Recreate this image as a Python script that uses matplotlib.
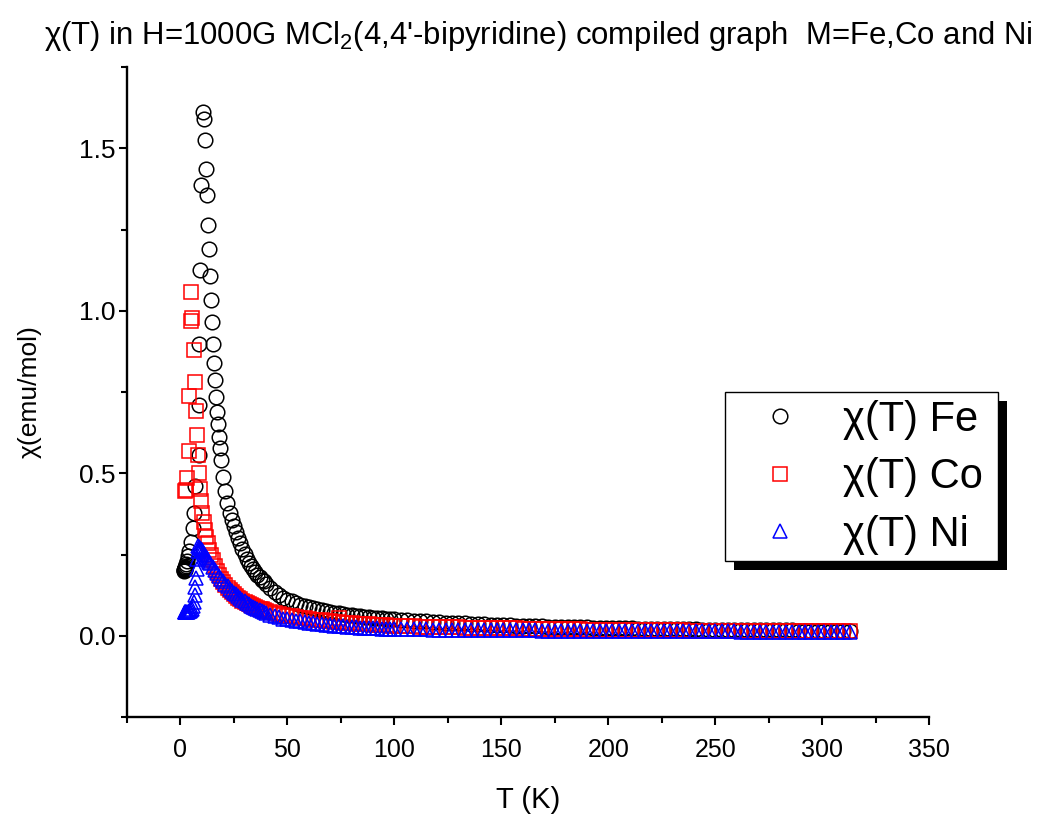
import matplotlib
matplotlib.use("Agg")
import matplotlib.pyplot as plt
from matplotlib.patches import Rectangle
from matplotlib.ticker import MultipleLocator

plt.rcParams['font.family'] = ['Liberation Sans', 'DejaVu Sans']
plt.rcParams['mathtext.fontset'] = 'custom'
plt.rcParams['mathtext.rm'] = 'Liberation Sans'
plt.rcParams['mathtext.it'] = 'Liberation Sans'

# ---------------- data ----------------
# shared temperature grid for the high-temperature tails
T_tail = ([24, 25, 26, 27, 28, 29, 30, 31, 32, 33, 34, 35, 36, 37, 38, 39, 40,
           42, 44, 46, 48, 50, 52, 54, 56, 58, 60, 62, 64, 66, 68, 70, 72, 74, 76, 78,
           80, 82, 84, 86, 88, 90, 92, 94, 96, 98, 100]
          + [103, 106, 109, 112, 115, 118, 121, 124, 127, 130, 133, 136, 139, 142, 145,
             148, 151, 154, 157, 160, 163, 166, 169, 172, 175, 178, 181, 184, 187, 190,
             193, 196, 199, 202, 205, 208, 211, 214, 217, 220, 223, 226, 229, 232, 235,
             238, 241, 244, 247, 250, 253, 256, 259, 262, 265, 268, 271, 274, 277, 280,
             283, 286, 289, 292, 295, 298, 301, 304, 307, 310, 313])

# Fe: low temperature part
T_fe_low = [1.6, 1.7, 1.8, 1.9, 2.0, 2.1, 2.2, 2.3, 2.5, 2.7, 3.0, 3.5, 4.2, 5.0, 5.9,
            6.2, 7.0, 8.6, 8.6, 8.6, 9.3, 9.7, 10.4,
            10.9, 11.4, 12.1, 12.3, 12.8, 13.2, 13.7, 14.3, 14.8, 15.2, 15.9, 16.1,
            16.7, 17.1, 17.6, 18.2, 18.7, 19.0, 19.8, 21.0, 21.8, 23.0]
chi_fe_low = [0.200, 0.201, 0.202, 0.203, 0.205, 0.207, 0.209, 0.212, 0.216, 0.222,
              0.231, 0.245, 0.262, 0.290, 0.331, 0.378, 0.460, 0.557, 0.711, 0.898,
              1.124, 1.388, 1.612,
              1.590, 1.526, 1.437, 1.355, 1.265, 1.190, 1.106, 1.034, 0.965, 0.898,
              0.839, 0.788, 0.736, 0.690, 0.651, 0.613, 0.578, 0.542, 0.490, 0.444,
              0.408, 0.377]
chi_fe_tail = [0.357, 0.338, 0.320, 0.302, 0.285, 0.268, 0.252, 0.237, 0.225, 0.214,
               0.205, 0.196, 0.188, 0.180, 0.173, 0.167, 0.160,
               0.147, 0.136, 0.126, 0.117, 0.111, 0.106, 0.101, 0.096, 0.092, 0.088,
               0.084, 0.081, 0.078, 0.075, 0.073, 0.071, 0.069, 0.067, 0.065, 0.063,
               0.062, 0.060, 0.059, 0.058, 0.056, 0.055, 0.054, 0.053, 0.052, 0.051,
               0.0495, 0.0480, 0.0466, 0.0453, 0.0441, 0.0429, 0.0418, 0.0407, 0.0397,
               0.0387, 0.0378, 0.0369, 0.0360, 0.0352, 0.0344, 0.0336, 0.0329, 0.0322,
               0.0315, 0.0308, 0.0302, 0.0296, 0.0290, 0.0284, 0.0279, 0.0274, 0.0269,
               0.0264, 0.0259, 0.0254, 0.0250, 0.0245, 0.0241, 0.0237, 0.0233, 0.0229,
               0.0226, 0.0222, 0.0219, 0.0216, 0.0212, 0.0209, 0.0206, 0.0203, 0.0200,
               0.0198, 0.0195, 0.0192, 0.0190, 0.0187, 0.0185, 0.0182, 0.0180, 0.0178,
               0.0176, 0.0173, 0.0171, 0.0169, 0.0167, 0.0165, 0.0164, 0.0162, 0.0160,
               0.0158, 0.0157, 0.0155, 0.0153, 0.0152, 0.0150, 0.0149, 0.0147]

# Co: low temperature part (scattered) + outlier
T_co_low = [2.3, 2.7, 3.1, 3.9, 4.2, 4.7, 5.0, 5.5, 6.2, 6.7, 7.3, 7.8, 8.4, 8.7,
            9.3, 9.6, 10.3, 10.9, 11.4, 12.1, 12.8, 13.5, 14.3, 15.0, 16.0, 17.0,
            18.0, 19.0, 20.0, 21.0, 22.0, 23.0, 74.0]
chi_co_low = [0.446, 0.449, 0.485, 0.570, 0.738, 0.967, 1.057, 0.977, 0.878, 0.781,
              0.693, 0.618, 0.555, 0.501, 0.451, 0.416, 0.379, 0.351, 0.326, 0.305,
              0.285, 0.265, 0.247, 0.232, 0.215, 0.200, 0.187, 0.175, 0.165, 0.156,
              0.148, 0.141, 0.055]
chi_co_tail = [0.134, 0.128, 0.122, 0.117, 0.112, 0.108, 0.104, 0.100, 0.097, 0.094,
               0.091, 0.088, 0.086, 0.083, 0.081, 0.079, 0.077,
               0.074, 0.071, 0.068, 0.065, 0.062, 0.060, 0.058, 0.056, 0.054, 0.052,
               0.050, 0.048, 0.047, 0.045, 0.044, 0.043, 0.042, 0.040, 0.039, 0.038,
               0.037, 0.036, 0.035, 0.035, 0.034, 0.033, 0.032, 0.032, 0.031, 0.030,
               0.0295, 0.0290, 0.0285, 0.0280, 0.0275, 0.0270, 0.0266, 0.0262, 0.0258,
               0.0254, 0.0250, 0.0246, 0.0243, 0.0240, 0.0237, 0.0234, 0.0231, 0.0228,
               0.0225, 0.0222, 0.0219, 0.0216, 0.0213, 0.0210, 0.0207, 0.0204, 0.0201,
               0.0198, 0.0195, 0.0192, 0.0190, 0.0188, 0.0186, 0.0184, 0.0182, 0.0180,
               0.0178, 0.0176, 0.0174, 0.0172, 0.0170, 0.0168, 0.0166, 0.0164, 0.0162,
               0.0160, 0.0158, 0.0157, 0.0156, 0.0155, 0.0154, 0.0153, 0.0152, 0.0151,
               0.0150, 0.0149, 0.0148, 0.0147, 0.0146, 0.0145, 0.0144, 0.0143, 0.0142,
               0.0141, 0.0140, 0.0139, 0.0138, 0.0137, 0.0136, 0.0135, 0.0134]

# Ni: low temperature part
T_ni_low = [1.9, 2.1, 2.3, 2.5, 2.8, 3.1, 3.5, 4.0, 4.5, 5.0, 5.5, 6.0, 6.3, 6.6,
            6.9, 7.2, 7.5, 7.8, 8.1, 8.4, 8.8, 9.2, 9.6, 10.0, 10.5, 11.0, 11.5,
            12.0, 12.5, 13.0, 13.5, 14.0, 15.0, 16.0, 17.0, 18.0, 19.0, 20.0, 21.0,
            22.0, 23.0]
chi_ni_low = [0.072, 0.072, 0.073, 0.073, 0.073, 0.074, 0.074, 0.075, 0.076, 0.078,
              0.082, 0.091, 0.105, 0.125, 0.150, 0.177, 0.205, 0.235, 0.262, 0.275,
              0.273, 0.270, 0.267, 0.263, 0.258, 0.253, 0.248, 0.243, 0.238, 0.233,
              0.228, 0.223, 0.213, 0.203, 0.194, 0.185, 0.176, 0.168, 0.160, 0.152,
              0.145]
chi_ni_tail = [0.139, 0.133, 0.127, 0.121, 0.116, 0.111, 0.106, 0.101, 0.097, 0.093,
               0.089, 0.085, 0.082, 0.079, 0.076, 0.073, 0.070,
               0.065, 0.061, 0.057, 0.053, 0.051, 0.048, 0.046, 0.044, 0.042, 0.040,
               0.038, 0.036, 0.035, 0.033, 0.032, 0.031, 0.030, 0.029, 0.028, 0.027,
               0.026, 0.025, 0.025, 0.024, 0.023, 0.023, 0.022, 0.022, 0.021, 0.021,
               0.0205, 0.0202, 0.0199, 0.0196, 0.0193, 0.0191, 0.0189, 0.0187, 0.0185,
               0.0183, 0.0181, 0.0179, 0.0177, 0.0175, 0.0173, 0.0172, 0.0170, 0.0169,
               0.0167, 0.0166, 0.0164, 0.0163, 0.0161, 0.0160, 0.0159, 0.0157, 0.0156,
               0.0155, 0.0154, 0.0153, 0.0151, 0.0150, 0.0149, 0.0148, 0.0147, 0.0146,
               0.0145, 0.0144, 0.0143, 0.0142, 0.0141, 0.0140, 0.0139, 0.0138, 0.0137,
               0.0137, 0.0136, 0.0135, 0.0134, 0.0133, 0.0133, 0.0132, 0.0131, 0.0130,
               0.0130, 0.0129, 0.0128, 0.0128, 0.0127, 0.0126, 0.0126, 0.0125, 0.0125,
               0.0124, 0.0123, 0.0123, 0.0122, 0.0122, 0.0121, 0.0121, 0.0120]

labels = ["\u03c7(T) Fe", "\u03c7(T) Co", "\u03c7(T) Ni"]
title = "\u03c7(T) in H=1000G MCl$_2$(4,4'-bipyridine) compiled graph  M=Fe,Co and Ni"
xticks = [0, 50, 100, 150, 200, 250, 300, 350]
yticks = [0.0, 0.5, 1.0, 1.5]

# ---------------- figure ----------------
W, H = 1038, 817
fig = plt.figure(figsize=(W / 100, H / 100), dpi=100)
fig.patch.set_facecolor('white')
ax = fig.add_axes([127 / W, 1 - 717 / H, (929 - 127) / W, (717 - 67) / H])
ax.patch.set_alpha(0)

ax.plot(T_fe_low + T_tail, chi_fe_low + chi_fe_tail, linestyle='none', marker='o',
        ms=10.5, mfc='none', mec='black', mew=1.1, label=labels[0], zorder=2)
ax.plot(T_co_low + T_tail, chi_co_low + chi_co_tail, linestyle='none', marker='s',
        ms=9.5, mfc='none', mec='red', mew=1.1, label=labels[1], zorder=2.1)
ax.plot(T_ni_low + T_tail, chi_ni_low + chi_ni_tail, linestyle='none', marker='^',
        ms=10.5, mfc='none', mec='blue', mew=1.1, label=labels[2], zorder=2.2)

ax.set_xlim(-25, 350)
ax.set_ylim(-0.25, 1.75)
ax.set_xticks(xticks)
ax.set_yticks(yticks)
ax.set_yticklabels([f"{v:.1f}" for v in yticks])
ax.xaxis.set_minor_locator(MultipleLocator(25))
ax.yaxis.set_minor_locator(MultipleLocator(0.25))
for s in ['top', 'right']:
    ax.spines[s].set_visible(False)
for s in ['left', 'bottom']:
    ax.spines[s].set_linewidth(1.7)
ax.tick_params(which='major', direction='out', length=6, width=1.5)
ax.tick_params(which='minor', direction='out', length=4, width=1.5)
ax.tick_params(axis='x', which='major', labelsize=18, pad=9)
ax.tick_params(axis='y', which='major', labelsize=19, pad=2)

ax.set_xlabel("T (K)", fontsize=21)
ax.set_ylabel("\u03c7(emu/mol)", fontsize=19)
ax.xaxis.set_label_coords(0.5, (717 - 800) / 650)
ax.xaxis.label.set_va('center')
ax.yaxis.set_label_coords((30 - 127) / 802, 0.5)
ax.yaxis.label.set_va('center')
fig.text(538.5 / W, 1 - 36 / H, title, ha='center', va='center', fontsize=22.4)

# legend with manual frame and solid shadow
fs_leg = 30
hl = 1.6
leg = ax.legend(loc='center left',
                bbox_to_anchor=((780 - hl * fs_leg * 100 / 72 / 2) / W, 1 - 477.5 / H),
                bbox_transform=fig.transFigure, frameon=False, fontsize=fs_leg,
                handlelength=hl, handletextpad=0.72, labelspacing=0.42,
                borderpad=0, borderaxespad=0, markerscale=1.0)
leg.set_zorder(6)
fx0, fy0, fx1, fy1 = 725, 392, 998, 561
sh = 9
ax.add_patch(Rectangle(((fx0 + sh) / W, 1 - (fy1 + sh) / H), (fx1 - fx0) / W, (fy1 - fy0) / H,
                       transform=fig.transFigure, facecolor='black', edgecolor='none',
                       zorder=4, clip_on=False))
ax.add_patch(Rectangle((fx0 / W, 1 - fy1 / H), (fx1 - fx0) / W, (fy1 - fy0) / H,
                       transform=fig.transFigure, facecolor='white', edgecolor='black',
                       linewidth=1.0, zorder=5, clip_on=False))

fig.savefig("out.png", dpi=100)
